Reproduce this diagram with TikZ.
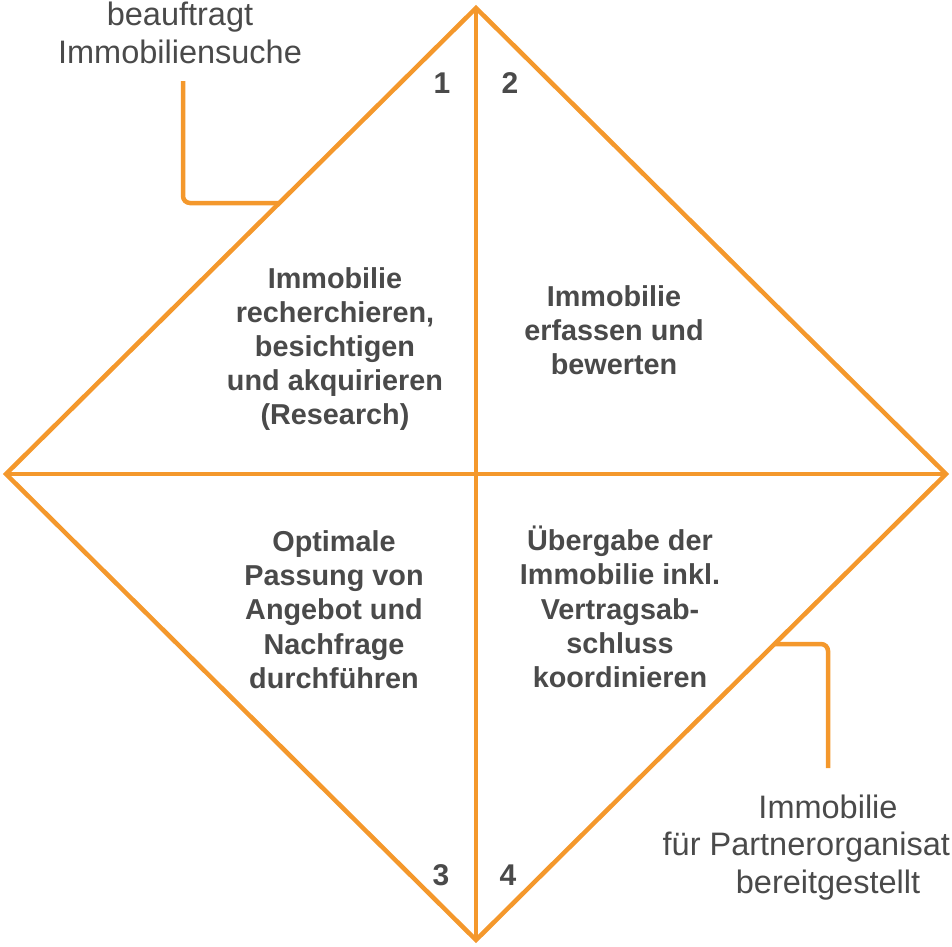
\documentclass[tikz,border=0pt]{standalone}
\usepackage{fontspec}
\setmainfont{Liberation Sans}
\definecolor{rahmen}{RGB}{244,152,44}
\definecolor{schrift}{RGB}{74,74,74}

\begin{document}
\begin{tikzpicture}[x=1pt,y=-1pt]
\tikzset{
  rand/.style={draw=rahmen,line width=4.5pt,line join=miter},
  hinweis/.style={draw=rahmen,line width=4.5pt,rounded corners=7pt},
  feldtext/.style={align=center,text=schrift,inner sep=0pt,font=\fontsize{28.8}{34.2}\selectfont\bfseries},
  aussentext/.style={align=center,text=schrift,inner sep=0pt,font=\fontsize{32.5}{37.8}\selectfont},
  nummer/.style={anchor=base,text=schrift,inner sep=0pt,font=\fontsize{30}{32}\selectfont\bfseries}
}
\useasboundingbox (0,0) rectangle (952,946);
% Raute
\coordinate (d_top) at (476,8);
\coordinate (d_right) at (946,474);
\coordinate (d_bottom) at (476,940);
\coordinate (d_left) at (6,474);
\draw[rand] (d_top) -- (d_right) -- (d_bottom) -- (d_left) -- cycle;
\draw[rand] (d_top) -- (d_bottom);
\draw[rand] (d_left) -- (d_right);
% Felder
\node[feldtext] (f_1) at (335,349) {Immobilie\\recherchieren,\\besichtigen\\und akquirieren\\(Research)};
\node[feldtext] (f_2) at (614,330) {Immobilie\\erfassen und\\bewerten};
\node[feldtext] (f_3) at (334,609.5) {Optimale\\Passung von\\Angebot und\\Nachfrage\\durchführen};
\node[feldtext] (f_4) at (620,607) {Übergabe der\\Immobilie inkl.\\Vertragsab-\\schluss\\koordinieren};
\node[nummer] (n_1) at (442,93) {1};
\node[nummer] (n_2) at (510,93) {2};
\node[nummer] (n_3) at (441,885) {3};
\node[nummer] (n_4) at (508,885) {4};
% Eingang und Ausgang
\node[aussentext] (t_in) at (180,33) {beauftragt\\Immobiliensuche};
\node[aussentext] (t_out) at (828,847.5) {Immobilie\\\rlap{für Partnerorganisat}\phantom{für Partnerorganisation}\\bereitgestellt};
\coordinate (c_in) at (183,81);
\coordinate (c_inrand) at (279,203);
\coordinate (c_out) at (828,768);
\coordinate (c_outrand) at (775,644);
\draw[hinweis] (c_in) |- (c_inrand);
\draw[hinweis] (c_outrand) -| (c_out);
\end{tikzpicture}
\end{document}
